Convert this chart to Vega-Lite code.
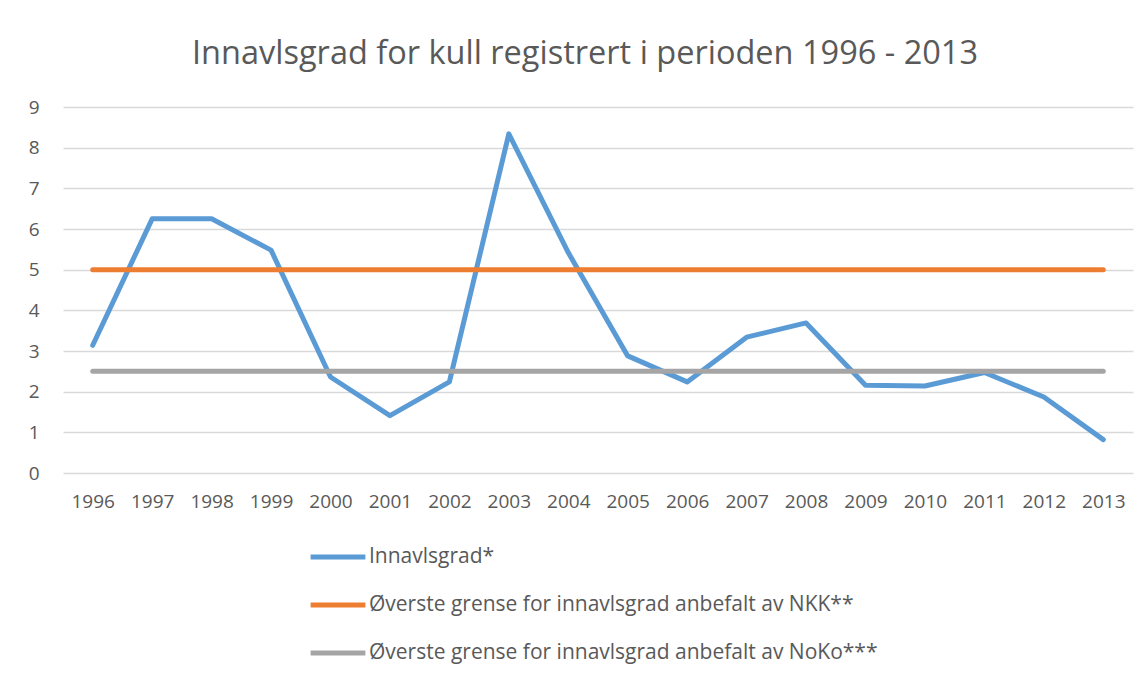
{
  "$schema": "https://vega.github.io/schema/vega-lite/v6.json",
  "autosize": {"type": "none"},
  "width": 1070,
  "height": 366,
  "padding": {"left": 63, "top": 107, "right": 13, "bottom": 202},
  "background": "white",
  "title": {
    "text": "Innavlsgrad for kull registrert i perioden 1996 - 2013",
    "font": "Open Sans",
    "fontSize": 32.5,
    "fontWeight": "normal",
    "color": "#595959",
    "anchor": "middle",
    "dx": -13,
    "offset": 28
  },
  "data": {
    "values": [
      {"year": "1996", "value": 3.14, "series": "Innavlsgrad*"},
      {"year": "1997", "value": 6.25, "series": "Innavlsgrad*"},
      {"year": "1998", "value": 6.25, "series": "Innavlsgrad*"},
      {"year": "1999", "value": 5.48, "series": "Innavlsgrad*"},
      {"year": "2000", "value": 2.36, "series": "Innavlsgrad*"},
      {"year": "2001", "value": 1.41, "series": "Innavlsgrad*"},
      {"year": "2002", "value": 2.24, "series": "Innavlsgrad*"},
      {"year": "2003", "value": 8.34, "series": "Innavlsgrad*"},
      {"year": "2004", "value": 5.42, "series": "Innavlsgrad*"},
      {"year": "2005", "value": 2.88, "series": "Innavlsgrad*"},
      {"year": "2006", "value": 2.24, "series": "Innavlsgrad*"},
      {"year": "2007", "value": 3.34, "series": "Innavlsgrad*"},
      {"year": "2008", "value": 3.69, "series": "Innavlsgrad*"},
      {"year": "2009", "value": 2.16, "series": "Innavlsgrad*"},
      {"year": "2010", "value": 2.14, "series": "Innavlsgrad*"},
      {"year": "2011", "value": 2.47, "series": "Innavlsgrad*"},
      {"year": "2012", "value": 1.87, "series": "Innavlsgrad*"},
      {"year": "2013", "value": 0.82, "series": "Innavlsgrad*"},
      {"year": "1996", "value": 5, "series": "Øverste grense for innavlsgrad anbefalt av NKK**"},
      {"year": "1997", "value": 5, "series": "Øverste grense for innavlsgrad anbefalt av NKK**"},
      {"year": "1998", "value": 5, "series": "Øverste grense for innavlsgrad anbefalt av NKK**"},
      {"year": "1999", "value": 5, "series": "Øverste grense for innavlsgrad anbefalt av NKK**"},
      {"year": "2000", "value": 5, "series": "Øverste grense for innavlsgrad anbefalt av NKK**"},
      {"year": "2001", "value": 5, "series": "Øverste grense for innavlsgrad anbefalt av NKK**"},
      {"year": "2002", "value": 5, "series": "Øverste grense for innavlsgrad anbefalt av NKK**"},
      {"year": "2003", "value": 5, "series": "Øverste grense for innavlsgrad anbefalt av NKK**"},
      {"year": "2004", "value": 5, "series": "Øverste grense for innavlsgrad anbefalt av NKK**"},
      {"year": "2005", "value": 5, "series": "Øverste grense for innavlsgrad anbefalt av NKK**"},
      {"year": "2006", "value": 5, "series": "Øverste grense for innavlsgrad anbefalt av NKK**"},
      {"year": "2007", "value": 5, "series": "Øverste grense for innavlsgrad anbefalt av NKK**"},
      {"year": "2008", "value": 5, "series": "Øverste grense for innavlsgrad anbefalt av NKK**"},
      {"year": "2009", "value": 5, "series": "Øverste grense for innavlsgrad anbefalt av NKK**"},
      {"year": "2010", "value": 5, "series": "Øverste grense for innavlsgrad anbefalt av NKK**"},
      {"year": "2011", "value": 5, "series": "Øverste grense for innavlsgrad anbefalt av NKK**"},
      {"year": "2012", "value": 5, "series": "Øverste grense for innavlsgrad anbefalt av NKK**"},
      {"year": "2013", "value": 5, "series": "Øverste grense for innavlsgrad anbefalt av NKK**"},
      {"year": "1996", "value": 2.5, "series": "Øverste grense for innavlsgrad anbefalt av NoKo***"},
      {"year": "1997", "value": 2.5, "series": "Øverste grense for innavlsgrad anbefalt av NoKo***"},
      {"year": "1998", "value": 2.5, "series": "Øverste grense for innavlsgrad anbefalt av NoKo***"},
      {"year": "1999", "value": 2.5, "series": "Øverste grense for innavlsgrad anbefalt av NoKo***"},
      {"year": "2000", "value": 2.5, "series": "Øverste grense for innavlsgrad anbefalt av NoKo***"},
      {"year": "2001", "value": 2.5, "series": "Øverste grense for innavlsgrad anbefalt av NoKo***"},
      {"year": "2002", "value": 2.5, "series": "Øverste grense for innavlsgrad anbefalt av NoKo***"},
      {"year": "2003", "value": 2.5, "series": "Øverste grense for innavlsgrad anbefalt av NoKo***"},
      {"year": "2004", "value": 2.5, "series": "Øverste grense for innavlsgrad anbefalt av NoKo***"},
      {"year": "2005", "value": 2.5, "series": "Øverste grense for innavlsgrad anbefalt av NoKo***"},
      {"year": "2006", "value": 2.5, "series": "Øverste grense for innavlsgrad anbefalt av NoKo***"},
      {"year": "2007", "value": 2.5, "series": "Øverste grense for innavlsgrad anbefalt av NoKo***"},
      {"year": "2008", "value": 2.5, "series": "Øverste grense for innavlsgrad anbefalt av NoKo***"},
      {"year": "2009", "value": 2.5, "series": "Øverste grense for innavlsgrad anbefalt av NoKo***"},
      {"year": "2010", "value": 2.5, "series": "Øverste grense for innavlsgrad anbefalt av NoKo***"},
      {"year": "2011", "value": 2.5, "series": "Øverste grense for innavlsgrad anbefalt av NoKo***"},
      {"year": "2012", "value": 2.5, "series": "Øverste grense for innavlsgrad anbefalt av NoKo***"},
      {"year": "2013", "value": 2.5, "series": "Øverste grense for innavlsgrad anbefalt av NoKo***"}
    ]
  },
  "mark": {"type": "line", "strokeWidth": 5, "strokeCap": "round", "strokeJoin": "round"},
  "encoding": {
    "x": {
      "field": "year",
      "type": "ordinal",
      "scale": {"type": "point", "padding": 0.5},
      "axis": {
        "title": null,
        "labelAngle": 0,
        "domain": false,
        "ticks": false,
        "grid": false,
        "labelFont": "Open Sans",
        "labelFontSize": 19,
        "labelColor": "#595959",
        "labelPadding": 19
      }
    },
    "y": {
      "field": "value",
      "type": "quantitative",
      "scale": {"domain": [0, 9], "nice": false, "zero": true},
      "axis": {
        "title": null,
        "values": [0, 1, 2, 3, 4, 5, 6, 7, 8, 9],
        "domain": false,
        "ticks": false,
        "grid": true,
        "gridColor": "#D9D9D9",
        "gridWidth": 1.5,
        "labelFont": "Open Sans",
        "labelFontSize": 19,
        "labelColor": "#595959",
        "labelPadding": 24
      }
    },
    "color": {
      "field": "series",
      "type": "nominal",
      "scale": {
        "domain": ["Innavlsgrad*", "Øverste grense for innavlsgrad anbefalt av NKK**", "Øverste grense for innavlsgrad anbefalt av NoKo***"],
        "range": ["#5B9BD5", "#ED7D31", "#A5A5A5"]
      },
      "legend": {
        "title": null,
        "orient": "none",
        "legendX": 245,
        "legendY": 420,
        "direction": "vertical",
        "symbolType": "stroke",
        "symbolSize": 3000,
        "symbolStrokeWidth": 5,
        "labelFont": "Open Sans",
        "labelFontSize": 21,
        "labelColor": "#595959",
        "labelOffset": 1,
        "labelLimit": 0,
        "rowPadding": 8
      }
    }
  },
  "config": {"view": {"stroke": null}}
}
